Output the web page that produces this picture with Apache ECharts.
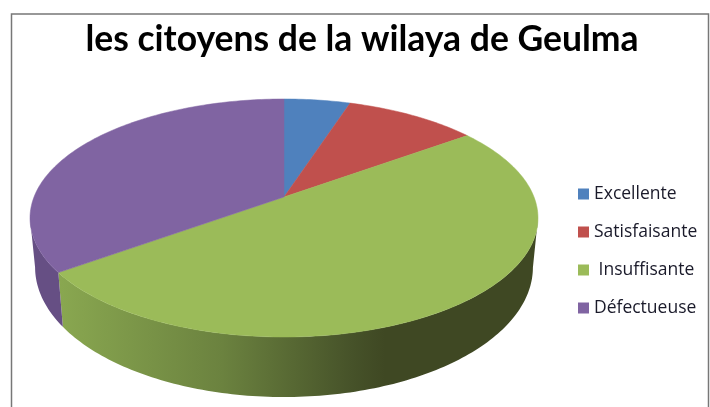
<!DOCTYPE html>
<html><head><meta charset="utf-8">
<style>html,body{margin:0;padding:0;background:#fff}#c{width:710px;height:407px}</style>
<script src="https://cdn.jsdelivr.net/npm/echarts@6/dist/echarts.min.js"></script>
</head><body><div id="c"></div>
<script>
const titleText = 'les citoyens de la wilaya de Geulma';
const categories = ['Excellente', 'Satisfaisante', 'Insuffisante', 'Défectueuse'];
const values = [5, 10, 50, 35];
const colors = ['#4F81BD', '#C0504D', '#9BBB59', '#8064A2'];

// perspective model of the tilted disc
const CX = 284, P = 0.1765;
const TOP = {y0: 197, k: 250, m: 115.3};
const BOTTOM = {y0: 244.4, k: 245, m: 125.7};
const WALL_FROM = 100.2, WALL_TO = 259.8;
const total = values.reduce((a, b) => a + b, 0);

function project(deg, disc) {
  const t = deg * Math.PI / 180, u = Math.sin(t), v = -Math.cos(t), d = 1 - P * v;
  return [CX + disc.k * u / d, disc.y0 + disc.m * v / d];
}
function arc(a, b, disc) {
  const n = Math.max(2, Math.ceil(Math.abs(b - a))), pts = [];
  for (let i = 0; i <= n; i++) pts.push(project(a + (b - a) * i / n, disc));
  return pts;
}
const wallFill = {
  2: {type: 'linear', x: 60, y: 0, x2: 385, y2: 0, global: true,
      colorStops: [{offset: 0, color: '#89A750'}, {offset: 0.5, color: '#6B823F'}, {offset: 0.9, color: '#465229'}, {offset: 1, color: '#3F4823'}]},
  3: '#664F84'
};
function renderSlice(params, api) {
  const a = api.value(0) / total * 360, b = a + api.value(1) / total * 360;
  const color = colors[params.seriesIndex], children = [];
  const wa = Math.max(a, WALL_FROM), wb = Math.min(b, WALL_TO);
  if (wb > wa) {
    children.push({type: 'polygon',
      shape: {points: arc(wa, wb, TOP).concat(arc(wb, wa, BOTTOM))},
      style: {fill: wallFill[params.seriesIndex] || color}});
  }
  children.push({type: 'polygon',
    shape: {points: [[CX, TOP.y0]].concat(arc(a, b, TOP))},
    style: {fill: color, stroke: color, lineWidth: 0.5}});
  return {type: 'group', children};
}
let cum = 0;
const series = categories.map((name, i) => {
  const s = {type: 'custom', name, coordinateSystem: 'none', renderItem: renderSlice,
    itemStyle: {color: colors[i]}, data: [[cum, values[i]]], animation: false, silent: true};
  cum += values[i];
  return s;
});
const chart = echarts.init(document.getElementById('c'), null, {renderer: 'canvas'});
chart.setOption({
  animation: false,
  backgroundColor: '#fff',
  title: {text: titleText, left: 357, top: 17, textAlign: 'center',
    textStyle: {fontFamily: 'Lato', fontWeight: 'bold', fontSize: 35.5, color: '#000'}},
  legend: {orient: 'vertical', left: 573, top: 180, data: categories, itemWidth: 11, itemHeight: 11,
    itemGap: 20, selectedMode: false, icon: 'rect',
    formatter: n => n === 'Insuffisante' ? ' ' + n : n,
    textStyle: {fontFamily: 'Open Sans', fontSize: 17.5, lineHeight: 18, color: '#1a1a2a'}},
  graphic: [{type: 'polyline', silent: true, z: 10,
    shape: {points: [[11.5, 420], [11.5, 14], [708.5, 14], [708.5, 420]]},
    style: {stroke: '#777', lineWidth: 1.5, fill: null}}],
  series
});
</script></body></html>
